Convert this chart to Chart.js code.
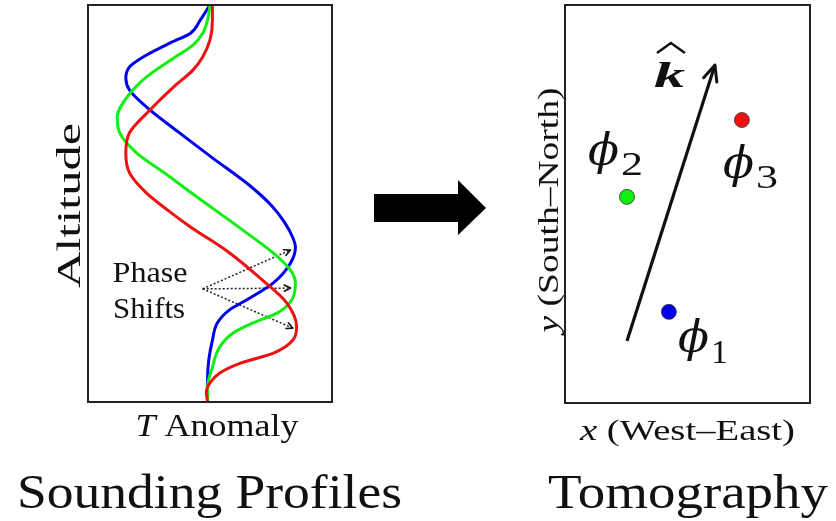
<!DOCTYPE html>
<html>
<head>
<meta charset="utf-8">
<script src="https://cdn.jsdelivr.net/npm/chart.js@4/dist/chart.umd.min.js"></script>
<style>
  html, body { margin: 0; padding: 0; background: #fff; }
  #wrap { position: relative; width: 836px; height: 521px; }
  #wrap canvas { position: absolute; left: 0; top: 0; }
</style>
</head>
<body>
<div id="wrap">
  <canvas id="profiles" width="836" height="521"></canvas>
  <canvas id="tomo" width="836" height="521"></canvas>
</div>
<script>
// ---------- Sounding profiles (T anomaly vs altitude) ----------
const blueT   = [0, -0.08, -0.16, -0.33, -0.52, -0.66, -0.69, -0.66, -0.52, -0.25, 0.02, 0.33, 0.50, 0.61, 0.68, 0.70, 0.66, 0.52, 0.30, 0.16, 0.06, 0.02, -0.01, -0.02, -0.02];
const blueAlt = [10, 9.62, 9.29, 9.04, 8.74, 8.44, 8.16, 7.86, 7.43, 6.78, 6.15, 5.44, 4.96, 4.53, 4.13, 3.90, 3.50, 3.00, 2.57, 2.32, 1.99, 1.56, 1.06, 0.55, 0];

const greenT   = [0, -0.02, -0.06, -0.14, -0.30, -0.52, -0.68, -0.76, -0.74, -0.60, -0.35, -0.14, 0.04, 0.30, 0.52, 0.66, 0.70, 0.67, 0.55, 0.35, 0.19, 0.08, 0.02, -0.02, -0.02];
const greenAlt = [10, 9.62, 9.29, 8.99, 8.66, 8.19, 7.68, 7.18, 6.78, 6.27, 5.72, 5.24, 4.84, 4.26, 3.75, 3.32, 3.00, 2.57, 2.24, 1.99, 1.74, 1.39, 0.88, 0.38, 0];

const redT   = [0.02, 0.02, 0, -0.06, -0.14, -0.30, -0.49, -0.66, -0.69, -0.66, -0.52, -0.35, -0.16, 0.15, 0.43, 0.63, 0.71, 0.68, 0.52, 0.25, 0.08, 0, -0.03, -0.02];
const redAlt = [10, 9.62, 9.12, 8.69, 8.36, 7.93, 7.36, 6.78, 6.27, 5.77, 5.26, 4.84, 4.41, 3.78, 3.07, 2.49, 1.89, 1.56, 1.23, 0.98, 0.73, 0.48, 0.25, 0];

// dotted "phase shift" arrows: one common start, three ends
const phaseFrom  = [-0.06, 2.85];
const phaseToT   = [0.66, 0.66, 0.68];
const phaseToAlt = [3.83, 2.87, 1.86];

// ---------- Tomography (stations + wave vector) ----------
const stationLabels = ['1', '2', '3'];
const stationX = [4.24, 2.53, 7.22];
const stationY = [2.29, 5.18, 7.11];
const kVecX = [2.53, 6.12];
const kVecY = [1.56, 8.49];

const BLUE = '#0000ee', GREEN = '#11ee11', RED = '#ee1111';
const stationColors = [BLUE, GREEN, RED];
const SERIF = '"Liberation Serif", "DejaVu Serif", serif';

const zip = (xs, ys) => xs.map((v, i) => ({ x: v, y: ys[i] }));

// text squeezed/stretched to a given width (the original face is wider than Times)
function fitText(ctx, runs, x, y, width, align, rot) {
  let total = 0;
  runs.forEach(r => { ctx.font = r.font; r.w = ctx.measureText(r.text).width; total += r.w; });
  const s = width / total;
  ctx.save();
  ctx.translate(x, y);
  if (rot) ctx.rotate(rot);
  ctx.scale(s, 1);
  let cx = align === 'center' ? -total / 2 : 0;
  ctx.textAlign = 'left';
  ctx.textBaseline = 'alphabetic';
  ctx.fillStyle = '#111';
  runs.forEach(r => { ctx.font = r.font; ctx.fillText(r.text, cx, 0); cx += r.w; });
  ctx.restore();
}

function arrowHead(ctx, x0, y0, x1, y1, len, spread, width) {
  const a = Math.atan2(y1 - y0, x1 - x0);
  ctx.save();
  ctx.strokeStyle = '#111';
  ctx.lineWidth = width;
  ctx.lineCap = 'round';
  ctx.lineJoin = 'round';
  ctx.beginPath();
  ctx.moveTo(x1 - len * Math.cos(a - spread), y1 - len * Math.sin(a - spread));
  ctx.lineTo(x1, y1);
  ctx.lineTo(x1 - len * Math.cos(a + spread), y1 - len * Math.sin(a + spread));
  ctx.stroke();
  ctx.restore();
}

// frame + labels for the profiles panel
const profileDecor = {
  id: 'profileDecor',
  afterDatasetsDraw(chart) {
    const { ctx, chartArea: a } = chart;
    ctx.save();
    ctx.strokeStyle = '#222';
    ctx.lineWidth = 2;
    ctx.strokeRect(a.left, a.top, a.right - a.left, a.bottom - a.top);
    ctx.restore();

    // heads on the dotted arrows
    for (let i = 0; i < phaseToT.length; i++) {
      const pts = chart.getDatasetMeta(3 + i).data;
      arrowHead(ctx, pts[0].x, pts[0].y, pts[1].x, pts[1].y, 7, 0.45, 1.6);
    }

    const midX = (a.left + a.right) / 2;
    const midY = (a.top + a.bottom) / 2;
    fitText(ctx, [{ text: 'Altitude', font: `33px ${SERIF}` }], a.left - 8, midY + 2, 165, 'center', -Math.PI / 2);
    fitText(ctx, [{ text: 'T', font: `italic 32px ${SERIF}` }, { text: ' Anomaly', font: `32px ${SERIF}` }],
      midX + 7, a.bottom + 34, 163, 'center');
    fitText(ctx, [{ text: 'Phase', font: `30px ${SERIF}` }], a.left + 62, a.top + 277, 75, 'center');
    fitText(ctx, [{ text: 'Shifts', font: `30px ${SERIF}` }], a.left + 61, a.top + 313, 72, 'center');
    fitText(ctx, [{ text: 'Sounding Profiles', font: `48px ${SERIF}` }], 17, 508, 385, 'left');

    // big arrow between the panels
    const x0 = a.right + 42, yc = 208;
    ctx.save();
    ctx.fillStyle = '#000';
    ctx.beginPath();
    ctx.moveTo(x0, yc - 14);
    ctx.lineTo(x0 + 84, yc - 14);
    ctx.lineTo(x0 + 84, yc - 28);
    ctx.lineTo(x0 + 112, yc);
    ctx.lineTo(x0 + 84, yc + 27);
    ctx.lineTo(x0 + 84, yc + 14);
    ctx.lineTo(x0, yc + 14);
    ctx.closePath();
    ctx.fill();
    ctx.restore();
  }
};

const curve = (t, alt, color) => ({
  data: zip(t, alt),
  borderColor: color,
  borderWidth: 3,
  pointRadius: 0,
  cubicInterpolationMode: 'monotone'
});

const phaseSets = phaseToT.map((t, i) => ({
  data: [{ x: phaseFrom[0], y: phaseFrom[1] }, { x: t, y: phaseToAlt[i] }],
  borderColor: '#222',
  borderWidth: 1.5,
  borderDash: [2, 2],
  pointRadius: 0,
  tension: 0
}));

new Chart(document.getElementById('profiles'), {
  type: 'line',
  data: {
    datasets: [
      curve(redT, redAlt, RED),
      curve(greenT, greenAlt, GREEN),
      curve(blueT, blueAlt, BLUE),
      ...phaseSets
    ]
  },
  options: {
    indexAxis: 'y',
    responsive: false,
    devicePixelRatio: 1,
    animation: false,
    layout: { autoPadding: false, padding: { left: 88, top: 5, right: 504, bottom: 119 } },
    scales: {
      x: { type: 'linear', min: -1, max: 1, display: false },
      y: { type: 'linear', min: 0, max: 10, display: false }
    },
    plugins: { legend: { display: false }, tooltip: { enabled: false } }
  },
  plugins: [profileDecor]
});

// frame + labels for the tomography panel
const tomoDecor = {
  id: 'tomoDecor',
  afterDatasetsDraw(chart) {
    const { ctx, chartArea: a } = chart;
    ctx.save();
    ctx.strokeStyle = '#222';
    ctx.lineWidth = 2;
    ctx.strokeRect(a.left, a.top, a.right - a.left, a.bottom - a.top);
    ctx.restore();

    const k = chart.getDatasetMeta(3).data;
    arrowHead(ctx, k[0].x, k[0].y, k[1].x, k[1].y, 17, 0.42, 3);

    // k-hat
    fitText(ctx, [{ text: 'k', font: `bold italic 36px ${SERIF}` }], k[1].x - 61, k[1].y + 22, 31, 'left');
    ctx.save();
    ctx.strokeStyle = '#111';
    ctx.lineWidth = 2.5;
    ctx.beginPath();
    ctx.moveTo(k[1].x - 58, k[1].y - 12);
    ctx.lineTo(k[1].x - 44, k[1].y - 22);
    ctx.lineTo(k[1].x - 30, k[1].y - 12);
    ctx.stroke();
    ctx.restore();

    // phi labels next to each station
    const offs = [[9, 40, 11], [-39, -32, 10], [-19, 58, 10]];
    stationLabels.forEach((lab, i) => {
      const p = chart.getDatasetMeta(i).data[0];
      const [dx, dy, sdy] = offs[i];
      fitText(ctx, [{ text: '\u03D5', font: `italic 44px "DejaVu Serif", serif` }], p.x + dx, p.y + dy, 31, 'left');
      fitText(ctx, [{ text: lab, font: `33px ${SERIF}` }], p.x + dx + 33, p.y + dy + sdy, lab === '1' ? 17 : 22, 'left');
    });

    const midX = (a.left + a.right) / 2;
    const midY = (a.top + a.bottom) / 2;
    fitText(ctx, [{ text: 'x', font: `italic 30px ${SERIF}` }, { text: ' (West\u2013East)', font: `30px ${SERIF}` }],
      midX, a.bottom + 37, 215, 'center');
    fitText(ctx, [{ text: 'y', font: `italic 30px ${SERIF}` }, { text: ' (South\u2013North)', font: `30px ${SERIF}` }],
      a.left - 7, midY + 6, 245, 'center', -Math.PI / 2);
    fitText(ctx, [{ text: 'Tomography', font: `48px ${SERIF}` }], 548, 508, 280, 'left');
  }
};

new Chart(document.getElementById('tomo'), {
  type: 'scatter',
  data: {
    datasets: [
      ...stationX.map((sx, i) => ({
        data: [{ x: sx, y: stationY[i] }],
        backgroundColor: stationColors[i],
        borderColor: '#333',
        borderWidth: 0.8,
        pointRadius: 7.5
      })),
      {
        data: zip(kVecX, kVecY),
        showLine: true,
        borderColor: '#111',
        borderWidth: 3.2,
        pointRadius: 0
      }
    ]
  },
  options: {
    responsive: false,
    devicePixelRatio: 1,
    animation: false,
    layout: { autoPadding: false, padding: { left: 565, top: 5, right: 26, bottom: 118 } },
    scales: {
      x: { type: 'linear', min: 0, max: 10, display: false },
      y: { type: 'linear', min: 0, max: 10, display: false }
    },
    plugins: { legend: { display: false }, tooltip: { enabled: false } }
  },
  plugins: [tomoDecor]
});
</script>
</body>
</html>
